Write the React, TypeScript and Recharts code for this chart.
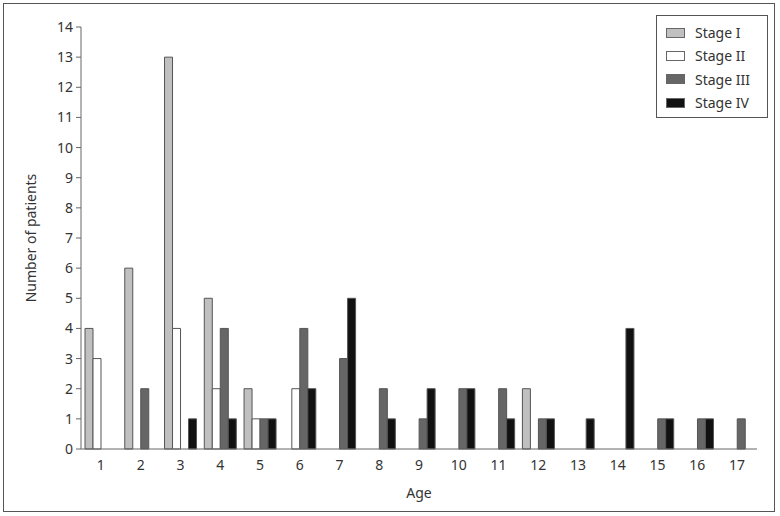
import React from 'react'
import { BarChart, Bar, XAxis, YAxis } from 'recharts'

const ages = ['1', '2', '3', '4', '5', '6', '7', '8', '9', '10', '11', '12', '13', '14', '15', '16', '17']
const stage1 = [4, 6, 13, 5, 2, 0, 0, 0, 0, 0, 0, 2, 0, 0, 0, 0, 0]
const stage2 = [3, 0, 4, 2, 1, 2, 0, 0, 0, 0, 0, 0, 0, 0, 0, 0, 0]
const stage3 = [0, 2, 0, 4, 1, 4, 3, 2, 1, 2, 2, 1, 0, 0, 1, 1, 1]
const stage4 = [0, 0, 1, 1, 1, 2, 5, 1, 2, 2, 1, 1, 1, 4, 1, 1, 0]
const yTicks = [0, 1, 2, 3, 4, 5, 6, 7, 8, 9, 10, 11, 12, 13, 14]

const series = [
  { key: 'stage1', name: 'Stage I', fill: '#c0c0c0' },
  { key: 'stage2', name: 'Stage II', fill: '#ffffff' },
  { key: 'stage3', name: 'Stage III', fill: '#666666' },
  { key: 'stage4', name: 'Stage IV', fill: '#111111' },
]

const data = ages.map((age, i) => ({
  age,
  stage1: stage1[i],
  stage2: stage2[i],
  stage3: stage3[i],
  stage4: stage4[i],
}))

const font = '"Noto Sans", sans-serif'
const textColor = '#333'

function LegendBox() {
  return (
    <div
      style={{
        position: 'absolute',
        left: 656,
        top: 15,
        width: 112,
        height: 103,
        border: '1px solid #555',
        background: '#fff',
        fontFamily: font,
        fontSize: 14,
        color: textColor,
        boxSizing: 'border-box',
        paddingTop: 5,
      }}
    >
      {series.map((s) => (
        <div key={s.key} style={{ display: 'flex', alignItems: 'center', height: 23.3, paddingLeft: 9 }}>
          <span
            style={{
              display: 'inline-block',
              width: 17,
              height: 8,
              background: s.fill,
              border: '1px solid #666',
              marginRight: 10,
            }}
          />
          <span>{s.name}</span>
        </div>
      ))}
    </div>
  )
}

export default function App() {
  return (
    <div style={{ position: 'absolute', left: 0, top: 0, width: 780, height: 516, background: '#fff' }}>
      <div
        style={{
          position: 'absolute',
          left: 3,
          top: 3,
          width: 772,
          height: 509,
          border: '1px solid #555',
          boxSizing: 'border-box',
        }}
      />
      <div style={{ position: 'absolute', left: 0, top: 0 }}>
        <BarChart
          width={780}
          height={516}
          data={data}
          margin={{ top: 27, right: 23, left: 20, bottom: 0 }}
          barGap={0}
          barSize={8}
        >
          <XAxis
            dataKey="age"
            tickLine={false}
            axisLine={{ stroke: '#666' }}
            tick={{ fill: textColor, fontSize: 14, fontFamily: font }}
            tickMargin={5}
            height={67}
            label={{
              value: 'Age',
              position: 'insideBottom',
              offset: 18,
              style: { fill: textColor, fontSize: 14, fontFamily: font },
            }}
          />
          <YAxis
            domain={[0, 14]}
            ticks={yTicks}
            interval={0}
            width={61}
            tickSize={5}
            tickMargin={3}
            axisLine={{ stroke: '#666' }}
            tickLine={{ stroke: '#666' }}
            tick={{ fill: textColor, fontSize: 14, fontFamily: font }}
            label={{
              value: 'Number of patients',
              angle: -90,
              position: 'insideLeft',
              offset: 11,
              style: { textAnchor: 'middle', fill: textColor, fontSize: 14, fontFamily: font },
            }}
          />
          {series.map((s) => (
            <Bar
              key={s.key}
              dataKey={s.key}
              name={s.name}
              fill={s.fill}
              stroke="#555"
              strokeWidth={1}
              isAnimationActive={false}
            />
          ))}
        </BarChart>
      </div>
      <LegendBox />
    </div>
  )
}
